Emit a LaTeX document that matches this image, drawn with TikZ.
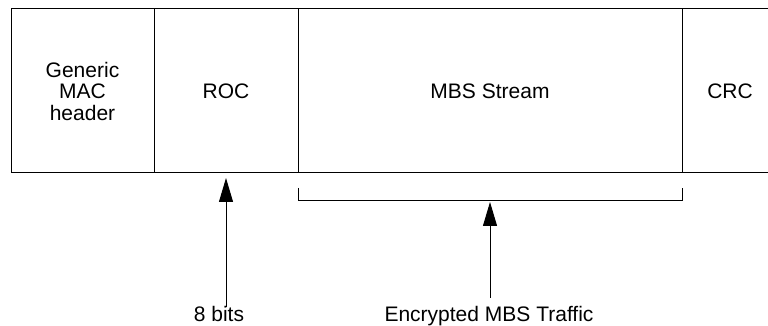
\documentclass[tikz,border=0pt]{standalone}
\usepackage{fontspec}
\setmainfont{Liberation Sans}
\usetikzlibrary{arrows.meta,positioning}
\tikzset{
  fld/.style={rectangle, draw=black, line width=1pt, minimum height=164pt,
              inner sep=0pt, outer sep=0pt, align=center, font=\fontsize{21}{21.5}\selectfont},
  lbl/.style={inner sep=0pt, font=\fontsize{21}{21.5}\selectfont},
  ln/.style={line width=1pt, draw=black},
  ar/.style={-{Triangle[length=24pt,width=14pt]}, line width=1pt},
}

\begin{document}
\begin{tikzpicture}[x=1pt,y=1pt]
\useasboundingbox (0,0) rectangle (768,326);

% ================= frame fields =================
\node[fld, minimum width=143pt] (gmh) at (82.5,235) {Generic\\MAC\\header};
\node[fld, minimum width=144pt, right=0pt of gmh] (roc) {ROC};
\node[fld, minimum width=384pt, right=0pt of roc] (mbs) {MBS Stream};
\node[lbl] (crc) at (730,235) {CRC};
\draw[ln] (mbs.north east) -- ++(86,0);
\draw[ln] (mbs.south east) -- ++(86,0);

% ================= bracket under the stream =================
\coordinate (bl) at ([yshift=-15pt]mbs.south west);
\coordinate (br) at ([yshift=-15pt]mbs.south east);
\coordinate (bmid) at ([yshift=-28pt]mbs.south);
\draw[ln] (bl) -- (bl |- bmid) -- (br |- bmid) -- (br);

% ================= labels and arrows =================
\node[lbl, anchor=base] (bits) at (219,4) {8 bits};
\node[lbl, anchor=base] (enc) at (489,4) {Encrypted MBS Traffic};
\draw[ar] (bits.north -| roc.south) -- ([yshift=-5pt]roc.south);
\draw[ar] ([yshift=9pt]enc.north -| bmid) -- ([yshift=-1pt]bmid);

\end{tikzpicture}
\end{document}
